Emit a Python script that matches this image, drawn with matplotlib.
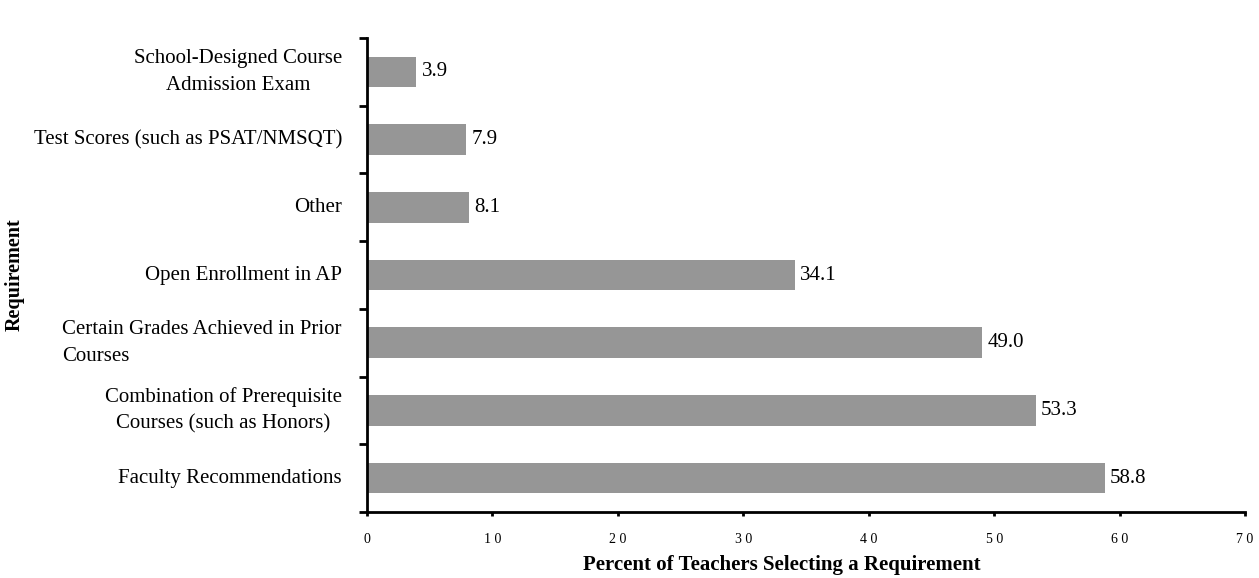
import matplotlib
matplotlib.use("Agg")
import matplotlib.pyplot as plt

categories = [
    "Faculty Recommendations",
    "Combination of Prerequisite\nCourses (such as Honors)",
    "Certain Grades Achieved in Prior\nCourses",
    "Open Enrollment in AP",
    "Other",
    "Test Scores (such as PSAT/NMSQT)",
    "School-Designed Course\nAdmission Exam",
]
values = [58.8, 53.3, 49.0, 34.1, 8.1, 7.9, 3.9]
label_align = ["left", "center", "left", "left", "left", "left", "center"]
xticks = [0, 10, 20, 30, 40, 50, 60, 70]
xtick_labels = [" ".join(str(t)) for t in xticks]

plt.rcParams['font.family'] = ['Liberation Serif', 'DejaVu Serif']

fig = plt.figure(figsize=(12.59, 5.78), dpi=100)
ax = fig.add_axes([367/1259, 1-512/578, (1245-367)/1259, (512-38)/578])

y = list(range(len(categories)))
ax.barh(y, values, height=0.45, color="#969696", zorder=2)
ax.set_xlim(0, 70)
ax.set_ylim(-0.5, len(categories) - 0.5)

for yi, v in zip(y, values):
    ax.text(v + 0.45, yi, f"{v:.1f}", va="center", ha="left", fontsize=15)

ax.set_yticks([i - 0.5 for i in range(len(categories) + 1)])
ax.set_yticklabels([])
ax.tick_params(axis="y", direction="out", length=6, width=2)
for yi, (c, al) in enumerate(zip(categories, label_align)):
    ax.annotate(c, xy=(0, yi), xycoords=("axes fraction", "data"),
                xytext=(-18, 0), textcoords="offset points",
                ha="right", va="center", fontsize=15, multialignment=al,
                linespacing=1.55)

ax.set_xticks(xticks)
ax.set_xticklabels(xtick_labels, fontsize=10)
ax.tick_params(axis="x", direction="out", length=3, width=2, pad=12)

for s in ["top", "right"]:
    ax.spines[s].set_visible(False)
for s in ["left", "bottom"]:
    ax.spines[s].set_linewidth(2)

fig.text(782/1259, 1-565/578, "Percent of Teachers Selecting a Requirement",
         ha="center", va="center", fontsize=15, fontweight="bold")
fig.text(15/1259, 1-275/578, "Requirement", rotation=90, ha="center",
         va="center", fontsize=14.5, fontweight="bold")

fig.savefig("out.png", dpi=100)
